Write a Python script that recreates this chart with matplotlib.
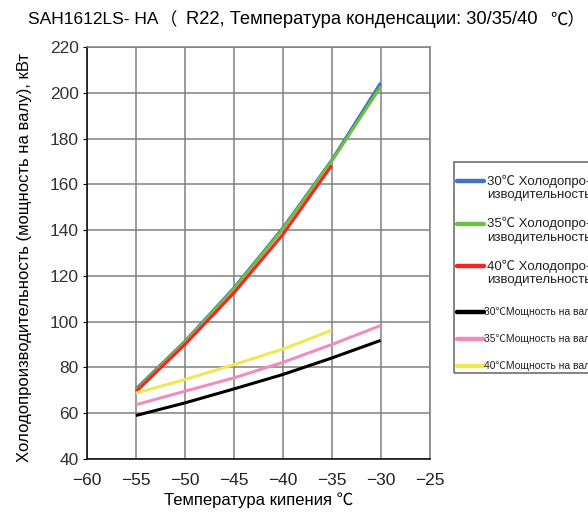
import matplotlib
matplotlib.use("Agg")
import matplotlib.pyplot as plt
from matplotlib.lines import Line2D
from matplotlib.patches import Rectangle
from matplotlib import font_manager

plt.rcParams['font.family'] = ['Liberation Sans', 'Noto Sans CJK SC', 'DejaVu Sans']

temps = [-55, -50, -45, -40, -35, -30]
temps_40 = [-55, -50, -45, -40, -35]

cap_30 = [70.6, 91.4, 114.7, 140.9, 170.5, 204.3]
cap_35 = [70.0, 91.0, 114.2, 140.4, 170.0, 202.6]
cap_40 = [69.4, 90.0, 112.5, 138.0, 168.2]
pow_30 = [59.0, 64.5, 70.6, 76.9, 84.1, 91.8]
pow_35 = [63.7, 69.6, 75.4, 82.2, 90.0, 98.3]
pow_40 = [68.8, 74.7, 81.2, 88.0, 96.2]

labels = ["30\u2103 Холодопро-\nизводительность",
          "35\u2103 Холодопро-\nизводительность",
          "40\u2103 Холодопро-\nизводительность",
          "30\u2103Мощность на валу",
          "35\u2103Мощность на валу",
          "40\u2103Мощность на валу"]
colors = ["#4472c4", "#70c040", "#ff2020", "#000000", "#f08cc0", "#f0e850"]

xticks = [-60, -55, -50, -45, -40, -35, -30, -25]
yticks = list(range(40, 221, 20))

W, H = 588, 514
def fx(px):
    return px / W
def fy(py):
    return 1 - py / H

fig = plt.figure(figsize=(5.88, 5.14), dpi=100)
ax = fig.add_axes([fx(87), fy(459), fx(429.5) - fx(87), fy(47) - fy(459)])

series = [(temps, cap_30), (temps, cap_35), (temps_40, cap_40),
          (temps, pow_30), (temps, pow_35), (temps_40, pow_40)]
for (xs, ys), c, lab in zip(series, colors, labels):
    ax.plot(xs, ys, color=c, lw=2.2, label=lab, solid_capstyle='butt')

ax.set_xlim(-60, -25)
ax.set_ylim(40, 220)
ax.set_xticks(xticks)
ax.set_yticks(yticks)
ax.set_xticklabels(["\u2212%d" % abs(v) for v in xticks], fontsize=12.5, color='#222222')
ax.set_yticklabels([str(v) for v in yticks], fontsize=12.5, color='#333333')
ax.grid(True, color='#808080', lw=1.1)
ax.tick_params(axis='x', length=0, pad=10)
ax.tick_params(axis='y', length=3, pad=3, color='#000000')
for s in ax.spines.values():
    s.set_color('#808080')
    s.set_linewidth(1.1)
ax.spines['left'].set_color('#000000')
ax.spines['bottom'].set_color('#000000')

ax.set_xlabel("Температура кипения \u2103", fontsize=12, labelpad=3)
ax.set_ylabel("Холодопроизводительность (мощность на валу), кВт", fontsize=12)
ax.yaxis.set_label_coords((32 - 87) / 342.5, 0.49)

fig.text(fx(28), fy(20), "SAH1612LS- HA", fontsize=12.5, ha='left', va='center')
fig.text(fx(160), fy(20), "\uff08", fontsize=12.5, ha='left', va='center')
fig.text(fx(186), fy(20), "R22, Температура конденсации: 30/35/40",
         fontsize=13.2, ha='left', va='center')
fig.text(fx(550), fy(20), "\u2103\uff09", fontsize=12.5, ha='left', va='center',
         family=['Noto Sans CJK SC', 'DejaVu Sans'])

# legend (drawn manually to mirror the reference layout)
fig.add_artist(Rectangle((fx(454), fy(373)), fx(700) - fx(454), fy(162) - fy(373),
                         transform=fig.transFigure, fill=False,
                         edgecolor='#707070', lw=1.2))
narrow_ok = any('Narrow' in f.name for f in font_manager.fontManager.ttflist
                if 'Liberation' in f.name)
entry_y = [181, 223.5, 266, 312, 339, 366]
for i, (c, lab, yy) in enumerate(zip(colors, labels, entry_y)):
    fig.add_artist(Line2D([fx(457), fx(484)], [fy(yy), fy(yy)], color=c, lw=3.2,
                          transform=fig.transFigure, solid_capstyle='round'))
    if i < 3:
        l1, l2 = lab.split("\n")
        fig.text(fx(487), fy(yy), l1, fontsize=9.5, ha='left', va='center', color='#222222')
        fig.text(fx(487), fy(yy + 14), l2, fontsize=9.5, ha='left', va='center', color='#222222')
    else:
        if narrow_ok:
            fig.text(fx(484), fy(yy), lab, fontsize=9, ha='left', va='center', color='#222222',
                     family=['Liberation Sans Narrow', 'Noto Sans CJK SC', 'DejaVu Sans'])
        else:
            fig.text(fx(484), fy(yy), lab, fontsize=7.5, ha='left', va='center', color='#222222')

fig.savefig("out.png", dpi=100)
